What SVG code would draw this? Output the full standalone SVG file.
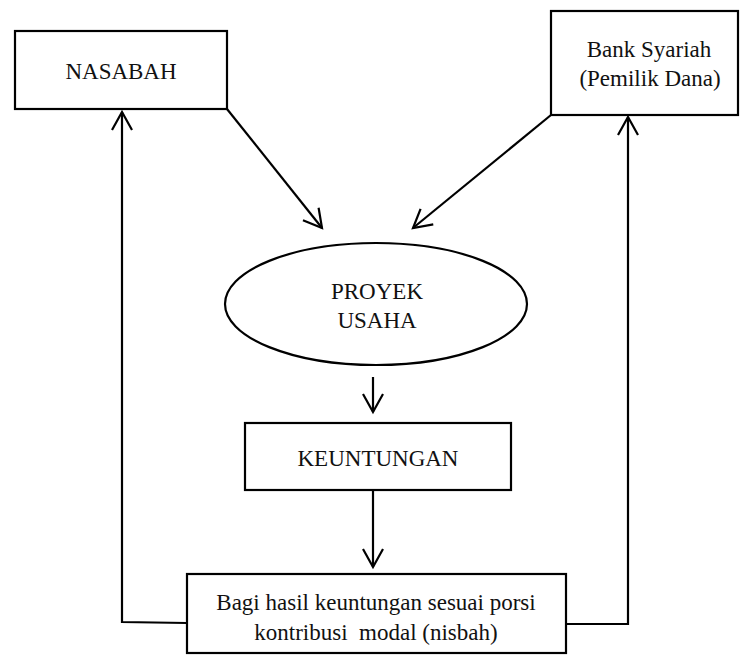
<svg xmlns="http://www.w3.org/2000/svg" width="740" height="656" viewBox="0 0 740 656">
<style>
.box{fill:#fff;stroke:#000;stroke-width:2.2}
.t{font-family:"Liberation Serif","Times New Roman",serif;font-size:23px;fill:#111;text-anchor:middle;white-space:pre}
.c{fill:none;stroke:#000;stroke-width:2.2}
</style>
<defs>
<marker id="ah" markerUnits="userSpaceOnUse" viewBox="-22 -13 26 26" markerWidth="26" markerHeight="26" refX="0" refY="0" orient="auto" overflow="visible">
<path d="M-18,-10 L0,0 L-18,10" fill="none" stroke="#000" stroke-width="2.2"/>
</marker>
</defs>
<rect width="740" height="656" fill="#fff"/>
<g id="connectors">
<line class="c" x1="227" y1="109" x2="322" y2="228" marker-end="url(#ah)"/>
<line class="c" x1="551" y1="115" x2="413" y2="228" marker-end="url(#ah)"/>
<line class="c" x1="373" y1="377" x2="373" y2="412" marker-end="url(#ah)"/>
<line class="c" x1="373" y1="490" x2="373" y2="567" marker-end="url(#ah)"/>
<polyline class="c" points="187,623 122,622 122,112" marker-end="url(#ah)"/>
<polyline class="c" points="566,624 628,624 628,117" marker-end="url(#ah)"/>
</g>
<g id="nasabah">
<rect class="box" x="15" y="31" width="212" height="78"/>
<text class="t" x="121" y="79">NASABAH</text>
</g>
<g id="bank">
<rect class="box" x="551" y="11" width="187" height="104"/>
<text class="t" x="649" y="57">Bank Syariah</text>
<text class="t" x="650" y="86">(Pemilik Dana)</text>
</g>
<g id="proyek">
<ellipse class="box" cx="376" cy="304" rx="151" ry="61"/>
<text class="t" x="377" y="299">PROYEK</text>
<text class="t" x="377" y="328">USAHA</text>
</g>
<g id="keuntungan">
<rect class="box" x="245" y="423" width="266" height="67"/>
<text class="t" x="378" y="466">KEUNTUNGAN</text>
</g>
<g id="bagi">
<rect class="box" x="187" y="574" width="379" height="79"/>
<text class="t" x="376" y="610">Bagi hasil keuntungan sesuai porsi</text>
<text class="t" x="376" y="640" xml:space="preserve">kontribusi  modal (nisbah)</text>
</g>
</svg>
